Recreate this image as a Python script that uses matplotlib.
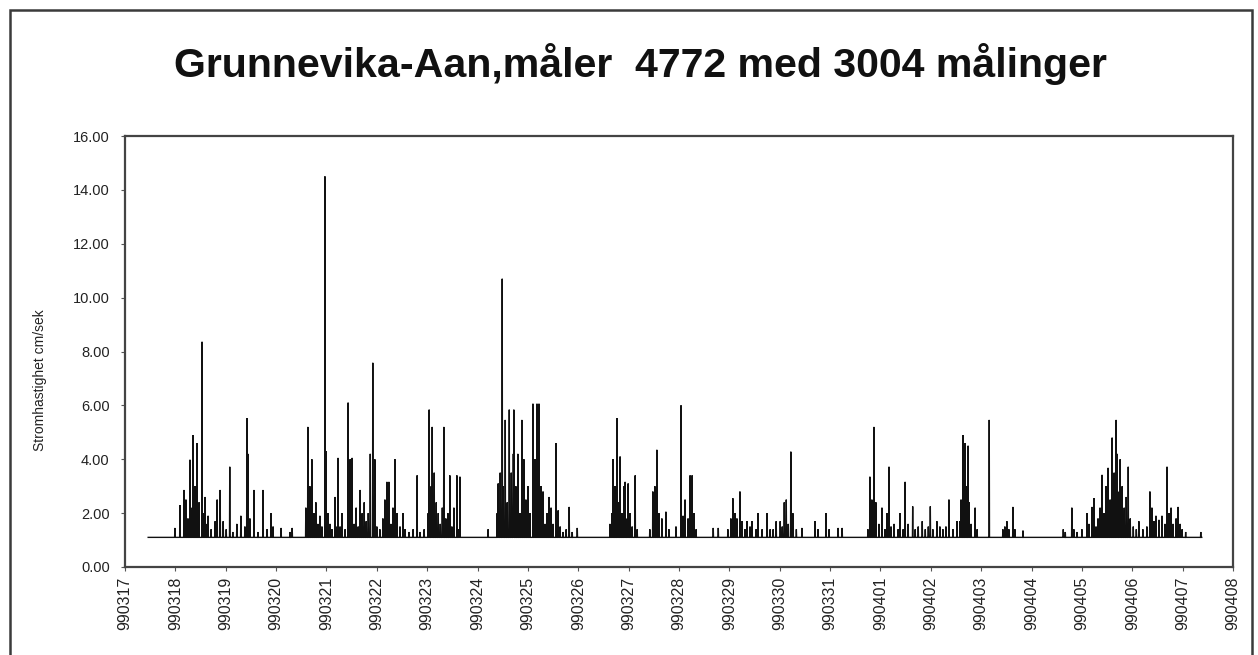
import matplotlib
matplotlib.use('Agg')
import matplotlib.pyplot as plt
from matplotlib.patches import Rectangle
from matplotlib import font_manager

# ---------------- data ----------------
title = "Grunnevika-Aan,måler  4772 med 3004 målinger"
y_label = "Stromhastighet cm/sek"
day_labels = ['990317', '990318', '990319', '990320', '990321', '990322', '990323',
              '990324', '990325', '990326', '990327', '990328', '990329', '990330',
              '990331', '990401', '990402', '990403', '990404', '990405', '990406',
              '990407', '990408']
y_ticks = [0, 2, 4, 6, 8, 10, 12, 14, 16]

base_level = 1.1          # quiet-water level of the series (cm/s)
series_start = 0.46       # first measurement (days after 990317 00:00)
series_end = 21.38        # last measurement

# spike times (days after 990317 00:00) and spike values (cm/s)
spike_day = [
    0.99, 1.09, 1.17, 1.21, 1.25, 1.29, 1.33, 1.35, 1.39, 1.43, 1.47, 1.53, 1.55, 1.59,
    1.63, 1.65, 1.71, 1.79, 1.83, 1.89, 1.95, 2.01, 2.08, 2.14, 2.22, 2.30, 2.38, 2.42,
    2.44, 2.48, 2.56, 2.64, 2.74, 2.82, 2.90, 2.94, 3.10, 3.28, 3.32,
    3.59, 3.63, 3.67, 3.71, 3.75, 3.79, 3.83, 3.87, 3.91, 3.97, 3.99, 4.03, 4.07, 4.11,
    4.17, 4.19, 4.23, 4.27, 4.31, 4.37, 4.43, 4.47, 4.51, 4.55, 4.59, 4.63, 4.67, 4.71,
    4.75, 4.79, 4.83, 4.87, 4.92, 4.96, 5.00, 5.06, 5.12, 5.16, 5.20, 5.24, 5.28, 5.32,
    5.36, 5.40, 5.46, 5.52, 5.56, 5.64, 5.72, 5.80, 5.86, 5.94, 6.02, 6.04, 6.08, 6.10,
    6.14, 6.18, 6.22, 6.26, 6.30, 6.33, 6.37, 6.41, 6.45, 6.49, 6.53, 6.59, 6.63, 6.65,
    7.21, 7.39, 7.41, 7.45, 7.49, 7.51, 7.55, 7.59, 7.63, 7.67, 7.71, 7.72, 7.76, 7.80,
    7.84, 7.88, 7.92, 7.96, 8.00, 8.04, 8.10, 8.14, 8.18, 8.22, 8.26, 8.30, 8.34, 8.38,
    8.42, 8.46, 8.50, 8.56, 8.60, 8.64, 8.70, 8.76, 8.82, 8.88, 8.98,
    9.63, 9.67, 9.69, 9.73, 9.77, 9.79, 9.83, 9.87, 9.91, 9.93, 9.97, 9.99, 10.03, 10.07,
    10.13, 10.17, 10.42, 10.48, 10.52, 10.56, 10.60, 10.66, 10.74, 10.80, 10.94, 11.04,
    11.08, 11.12, 11.18, 11.22, 11.26, 11.30, 11.34,
    11.68, 11.78, 11.97, 12.03, 12.07, 12.11, 12.15, 12.21, 12.25, 12.31, 12.35, 12.41,
    12.45, 12.53, 12.57, 12.65, 12.75, 12.81, 12.87, 12.93, 13.01, 13.05, 13.09, 13.13,
    13.17, 13.22, 13.26, 13.33, 13.44, 13.70, 13.76, 13.92, 13.98, 14.16, 14.24,
    14.75, 14.79, 14.83, 14.87, 14.91, 14.97, 15.03, 15.09, 15.13, 15.17, 15.21, 15.27,
    15.35, 15.39, 15.45, 15.49, 15.55, 15.64, 15.69, 15.75, 15.83, 15.89, 15.95, 15.99,
    16.04, 16.12, 16.18, 16.24, 16.30, 16.36, 16.44, 16.52, 16.58, 16.60, 16.64, 16.68,
    16.70, 16.74, 16.76, 16.80, 16.88, 16.92, 17.16,
    17.43, 17.47, 17.51, 17.55, 17.63, 17.67, 17.83,
    18.63, 18.67, 18.80, 18.84, 18.90, 19.00, 19.10, 19.14, 19.20, 19.24, 19.28, 19.32,
    19.36, 19.40, 19.44, 19.48, 19.52, 19.56, 19.60, 19.64, 19.68, 19.70, 19.74, 19.76,
    19.80, 19.84, 19.88, 19.92, 19.96, 20.02, 20.08, 20.13, 20.21, 20.29, 20.35, 20.39,
    20.43, 20.47, 20.53, 20.59, 20.65, 20.69, 20.73, 20.77, 20.81, 20.87, 20.91, 20.95,
    20.99, 21.06, 21.36,
]
spike_value = [
    1.45, 2.3, 2.86, 2.5, 1.8, 3.98, 2.2, 4.9, 3.0, 4.6, 2.4, 8.36, 2.0, 2.6,
    1.6, 1.9, 1.4, 1.7, 2.5, 2.86, 1.7, 1.4, 3.72, 1.3, 1.6, 1.9, 1.5, 5.53,
    4.2, 1.8, 2.86, 1.3, 2.86, 1.4, 2.0, 1.5, 1.45, 1.3, 1.45,
    2.2, 5.2, 3.0, 4.0, 2.0, 2.4, 1.6, 1.9, 1.5, 14.5, 4.3, 2.0, 1.6, 1.4,
    2.6, 1.5, 4.05, 1.5, 2.0, 1.4, 6.1, 4.0, 4.05, 1.6, 2.2, 1.5, 2.86, 2.0,
    2.4, 1.7, 2.0, 4.2, 7.58, 4.0, 1.5, 1.4, 1.8, 2.5, 3.16, 3.16, 1.6, 2.2,
    4.0, 2.0, 1.5, 2.0, 1.4, 1.3, 1.4, 3.4, 1.3, 1.4, 2.0, 5.84, 3.0, 5.2,
    3.5, 2.4, 2.0, 1.6, 2.2, 5.2, 1.8, 2.0, 3.4, 1.5, 2.2, 3.4, 1.4, 3.35,
    1.4, 2.0, 3.1, 3.5, 10.7, 3.0, 5.46, 2.4, 5.84, 3.5, 4.2, 5.84, 3.0, 4.2,
    2.0, 5.46, 4.0, 2.5, 3.0, 2.0, 6.06, 4.0, 6.06, 6.06, 3.0, 2.8, 1.6, 2.0,
    2.6, 2.2, 1.6, 4.6, 2.1, 1.5, 1.3, 1.4, 2.23, 1.3, 1.45,
    1.6, 2.0, 4.0, 3.0, 5.53, 2.4, 4.1, 2.0, 3.0, 3.16, 1.8, 3.1, 2.0, 1.5,
    3.4, 1.4, 1.4, 2.8, 3.0, 4.35, 2.0, 1.8, 2.05, 1.4, 1.5, 6.0,
    1.9, 2.5, 1.8, 3.4, 3.4, 2.0, 1.4,
    1.45, 1.45, 1.4, 1.8, 2.55, 2.0, 1.8, 2.8, 1.7, 1.4, 1.7, 1.5,
    1.7, 1.4, 2.0, 1.4, 2.0, 1.4, 1.4, 1.7, 1.7, 1.5, 2.4, 2.5,
    1.6, 4.28, 2.0, 1.4, 1.45, 1.7, 1.4, 2.0, 1.4, 1.45, 1.45,
    1.4, 3.35, 2.5, 5.2, 2.4, 1.6, 2.2, 1.4, 2.0, 3.72, 1.5, 1.6,
    1.4, 2.0, 1.4, 3.16, 1.6, 2.25, 1.4, 1.5, 1.7, 1.4, 1.5, 2.25,
    1.4, 1.7, 1.5, 1.4, 1.5, 2.5, 1.4, 1.7, 1.7, 2.5, 4.9, 4.6,
    3.0, 4.5, 2.4, 1.6, 2.2, 1.4, 5.46,
    1.4, 1.5, 1.7, 1.4, 2.23, 1.4, 1.35,
    1.4, 1.3, 2.2, 1.4, 1.3, 1.4, 2.0, 1.6, 2.23, 2.56, 1.5, 1.8,
    2.2, 3.42, 2.0, 3.0, 3.68, 2.5, 4.8, 3.5, 5.46, 4.2, 2.8, 4.0,
    3.0, 2.2, 2.6, 3.72, 1.8, 1.5, 1.4, 1.7, 1.4, 1.5, 2.8, 2.2,
    1.7, 1.9, 1.75, 1.9, 1.6, 3.72, 2.0, 2.2, 1.6, 1.8, 2.23, 1.6,
    1.4, 1.3, 1.3,
]

# ---------------- figure ----------------
W, H = 1258, 655
fig = plt.figure(figsize=(W / 100, H / 100), dpi=100)
fig.patch.set_facecolor('white')

FONT = ['Liberation Sans', 'DejaVu Sans']

# outer chart-area frame
fig.patches.append(Rectangle((10 / W, -0.05), (1252 - 10) / W, (H - 10) / H + 0.05,
                             transform=fig.transFigure, fill=False,
                             edgecolor='#3a3a3a', linewidth=1.8))

left, right, top, bottom = 125, 1233, 136, 567
ax = fig.add_axes([left / W, (H - bottom) / H, (right - left) / W, (bottom - top) / H])

# build the polyline: baseline, then a narrow up/down stroke for each spike
half = 0.005
xs = [series_start]
ys = [base_level]
for d, v in zip(spike_day, spike_value):
    xs += [d - half, d, d + half]
    ys += [base_level, v, base_level]
xs.append(series_end)
ys.append(base_level)
ax.plot(xs, ys, color='#111111', linewidth=1.0, solid_joinstyle='miter')

ax.set_xlim(0, len(day_labels) - 1)
ax.set_ylim(0, 16)
ax.set_xticks(range(len(day_labels)))
ax.set_xticklabels(day_labels, rotation=90, fontsize=11.5, family=FONT, color='#222222')
ax.set_yticks(y_ticks)
ax.set_yticklabels([f"{t:.2f}" for t in y_ticks], fontsize=10.5, family=FONT, color='#222222')
ax.tick_params(axis='x', length=3, pad=4, color='#555555')
ax.tick_params(axis='y', length=3, pad=8, color='#555555')
for s in ax.spines.values():
    s.set_color('#444444')
    s.set_linewidth(1.6)

fig.text(40 / W, (H - 380) / H, y_label, rotation=90, ha='center', va='center',
         fontsize=10, family=FONT, color='#222222')

# title fitted to its width in the reference
t = fig.text(640 / W, (H - 64) / H, title, ha='center', va='center',
             fontsize=30, fontweight='bold',
             family=['Liberation Sans Narrow', 'Liberation Sans', 'DejaVu Sans'],
             color='#111111')
fig.canvas.draw()
wpx = t.get_window_extent().width
t.set_fontsize(30 * 935 / wpx)

fig.savefig('out.png', dpi=100, facecolor='white')
